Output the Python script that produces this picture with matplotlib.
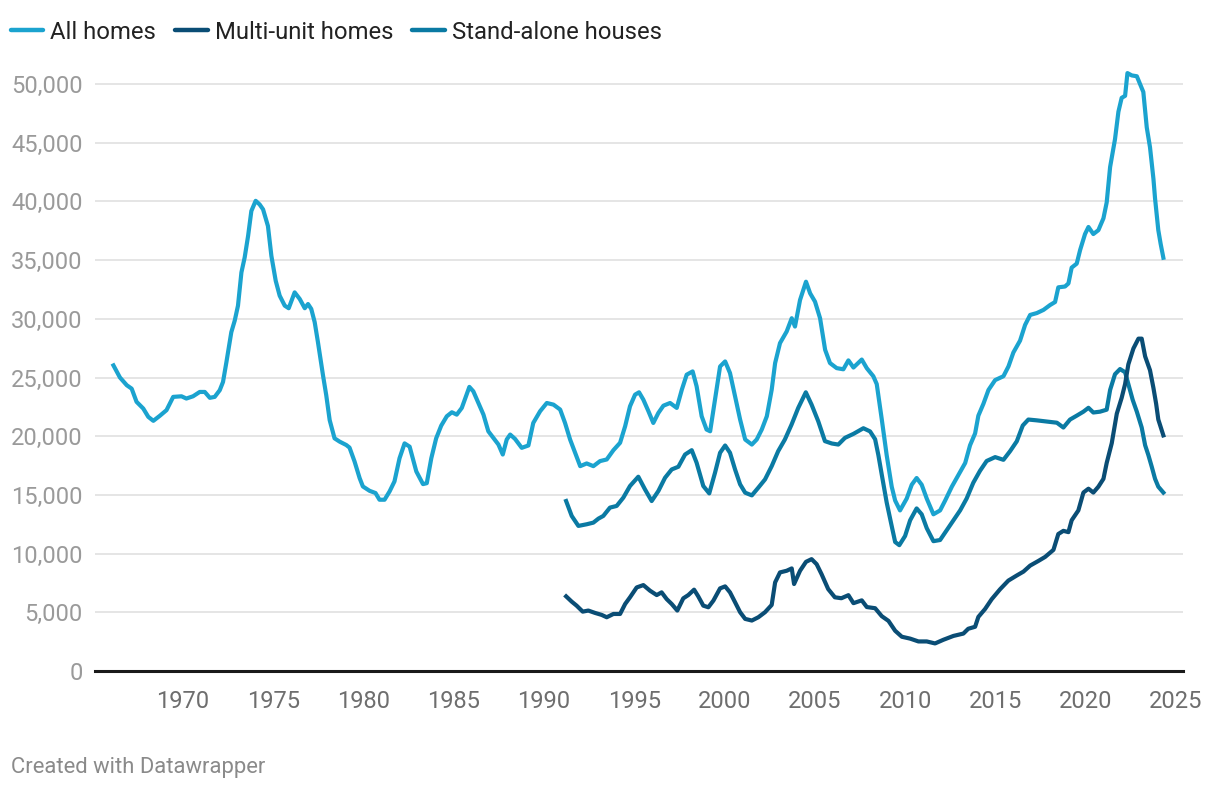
import matplotlib
matplotlib.use("Agg")
import matplotlib.pyplot as plt
from matplotlib.ticker import FuncFormatter

plt.rcParams['font.family'] = ['Roboto', 'DejaVu Sans']

# ---- data (year, value) ----
all_years = [1966.14, 1966.5, 1966.88, 1967.15, 1967.42, 1967.79, 1968.07, 1968.35, 1968.71, 1969.08,
             1969.45, 1969.91, 1970.18, 1970.55, 1970.92, 1971.2, 1971.48, 1971.75, 1972.03, 1972.21,
             1972.4, 1972.67, 1972.86, 1973.04, 1973.23, 1973.41, 1973.6, 1973.78, 1974.02, 1974.24,
             1974.43, 1974.7, 1974.89, 1975.13, 1975.35, 1975.63, 1975.85, 1976.18, 1976.46, 1976.74,
             1976.92, 1977.1, 1977.29, 1977.47, 1977.75, 1977.93, 1978.12, 1978.39, 1978.67, 1979.04,
             1979.22, 1979.5, 1979.78, 1979.96, 1980.33, 1980.66, 1980.88, 1981.16, 1981.44, 1981.71,
             1981.99, 1982.27, 1982.55, 1982.92, 1983.29, 1983.5, 1983.75, 1984.02, 1984.3, 1984.61,
             1984.89, 1985.16, 1985.44, 1985.86, 1986.08, 1986.36, 1986.64, 1986.91, 1987.19, 1987.47,
             1987.71, 1987.93, 1988.12, 1988.39, 1988.76, 1989.13, 1989.4, 1989.78, 1990.15, 1990.52,
             1990.89, 1991.16, 1991.44, 1991.72, 1992.0, 1992.36, 1992.73, 1993.1, 1993.47, 1993.84,
             1994.21, 1994.49, 1994.76, 1995.04, 1995.26, 1995.5, 1995.78, 1996.05, 1996.33, 1996.61,
             1996.98, 1997.35, 1997.63, 1997.9, 1998.23, 1998.45, 1998.73, 1999.0, 1999.2, 1999.47,
             1999.75, 2000.03, 2000.3, 2000.58, 2000.86, 2001.14, 2001.51, 2001.78, 2002.06, 2002.34,
             2002.61, 2002.8, 2003.07, 2003.44, 2003.72, 2003.9, 2004.18, 2004.51, 2004.74, 2005.01,
             2005.29, 2005.57, 2005.84, 2006.21, 2006.58, 2006.86, 2007.14, 2007.6, 2007.88, 2008.24,
             2008.43, 2008.71, 2008.98, 2009.26, 2009.45, 2009.72, 2010.09, 2010.37, 2010.64, 2010.92,
             2011.2, 2011.57, 2011.94, 2012.22, 2012.59, 2012.96, 2013.33, 2013.6, 2013.88, 2014.06,
             2014.34, 2014.62, 2014.99, 2015.45, 2015.73, 2016.0, 2016.37, 2016.65, 2016.93, 2017.3,
             2017.67, 2018.03, 2018.31, 2018.49, 2018.86, 2019.05, 2019.23, 2019.51, 2019.7, 2019.97,
             2020.16, 2020.43, 2020.71, 2020.99, 2021.17, 2021.36, 2021.63, 2021.82, 2022.0, 2022.19,
             2022.32, 2022.56, 2022.84, 2023.02, 2023.2, 2023.39, 2023.57, 2023.76, 2023.85, 2024.03,
             2024.16, 2024.31]
all_values = [26030, 25000, 24340, 24050, 22930, 22360, 21650, 21310, 21740, 22220,
              23350, 23400, 23210, 23400, 23770, 23770, 23270, 23350, 23920, 24620,
              26320, 28860, 29850, 31120, 33950, 35220, 37060, 39180, 40050, 39740,
              39320, 37900, 35360, 33240, 31970, 31120, 30900, 32250, 31690, 30900,
              31260, 30840, 29710, 28010, 25190, 23490, 21370, 19820, 19540, 19250,
              19030, 17840, 16430, 15720, 15350, 15160, 14590, 14590, 15300, 16150,
              18120, 19390, 19110, 17000, 15920, 16000, 18120, 19820, 20900, 21700,
              22040, 21840, 22410, 24200, 23820, 22830, 21840, 20420, 19860, 19290,
              18440, 19720, 20140, 19770, 19010, 19210, 21130, 22130, 22830, 22690,
              22270, 21130, 19720, 18590, 17450, 17680, 17450, 17880, 18020, 18810,
              19440, 20850, 22550, 23540, 23740, 23110, 22130, 21130, 21980, 22600,
              22830, 22410, 23960, 25240, 25520, 24250, 21700, 20570, 20420, 23110,
              25940, 26370, 25380, 23400, 21420, 19720, 19290, 19720, 20570, 21700,
              23960, 26230, 27930, 28920, 30050, 29340, 31600, 33160, 32170, 31460,
              30050, 27360, 26230, 25800, 25700, 26460, 25850, 26530, 25790, 25110,
              24440, 21420, 18390, 15700, 14520, 13680, 14690, 15870, 16440, 15870,
              14690, 13350, 13680, 14520, 15700, 16710, 17720, 19230, 20240, 21750,
              22760, 23940, 24780, 25110, 25950, 27130, 28140, 29480, 30330, 30490,
              30760, 31170, 31430, 32680, 32750, 33010, 34360, 34700, 35870, 37220,
              37820, 37220, 37550, 38560, 39910, 42930, 45290, 47640, 48820, 48990,
              50930, 50730, 50660, 49990, 49320, 46300, 44610, 41920, 40240, 37550,
              36380, 35200]

multi_years = [1991.22, 1991.53, 1991.8, 1992.14, 1992.45, 1992.82, 1993.19, 1993.47, 1993.84, 1994.21,
               1994.49, 1994.76, 1995.13, 1995.5, 1995.87, 1996.24, 1996.51, 1996.79, 1997.07, 1997.38,
               1997.71, 1997.99, 1998.31, 1998.54, 1998.82, 1999.1, 1999.38, 1999.75, 2000.03, 2000.3,
               2000.58, 2000.86, 2001.14, 2001.51, 2001.87, 2002.24, 2002.61, 2002.8, 2003.07, 2003.44,
               2003.72, 2003.85, 2004.18, 2004.51, 2004.82, 2005.1, 2005.37, 2005.74, 2006.11, 2006.47,
               2006.86, 2007.14, 2007.6, 2007.88, 2008.34, 2008.71, 2009.08, 2009.45, 2009.82, 2010.28,
               2010.74, 2011.2, 2011.66, 2012.12, 2012.68, 2013.23, 2013.5, 2013.88, 2014.06, 2014.43,
               2014.8, 2015.26, 2015.72, 2016.19, 2016.56, 2016.93, 2017.39, 2017.76, 2018.22, 2018.49,
               2018.77, 2019.05, 2019.23, 2019.6, 2019.88, 2020.16, 2020.43, 2020.71, 2020.99, 2021.17,
               2021.45, 2021.73, 2022.0, 2022.19, 2022.37, 2022.65, 2022.93, 2023.11, 2023.3, 2023.57,
               2023.76, 2023.91, 2024.03, 2024.31]
multi_values = [6360, 5910, 5570, 5060, 5150, 4950, 4780, 4580, 4860, 4860,
                5710, 6280, 7120, 7320, 6840, 6470, 6700, 6130, 5710, 5150,
                6190, 6470, 6930, 6360, 5570, 5430, 6000, 7040, 7210, 6700,
                5860, 5010, 4440, 4300, 4580, 5010, 5630, 7550, 8400, 8540,
                8740, 7410, 8540, 9300, 9530, 9100, 8260, 6980, 6280, 6200,
                6460, 5780, 6020, 5450, 5350, 4670, 4270, 3430, 2920, 2760,
                2520, 2520, 2350, 2660, 2990, 3190, 3600, 3770, 4610, 5280,
                6120, 6960, 7700, 8140, 8470, 8980, 9380, 9720, 10320, 11670,
                11940, 11830, 12840, 13680, 15200, 15530, 15200, 15700, 16370, 17720,
                19400, 21920, 23270, 24440, 26120, 27470, 28310, 28310, 26800, 25620,
                24110, 22760, 21420, 20070]

house_years = [1991.22, 1991.53, 1991.9, 1992.36, 1992.73, 1993.01, 1993.28, 1993.65, 1994.02, 1994.39,
               1994.76, 1995.22, 1995.59, 1995.96, 1996.33, 1996.7, 1997.07, 1997.44, 1997.81, 1998.18,
               1998.45, 1998.82, 1999.15, 1999.47, 1999.75, 2000.03, 2000.3, 2000.58, 2000.86, 2001.14,
               2001.51, 2001.87, 2002.24, 2002.61, 2002.97, 2003.34, 2003.71, 2004.08, 2004.5, 2004.82,
               2005.19, 2005.56, 2005.94, 2006.3, 2006.67, 2007.14, 2007.69, 2008.06, 2008.34, 2008.52,
               2008.71, 2008.98, 2009.26, 2009.45, 2009.68, 2010.0, 2010.28, 2010.64, 2010.92, 2011.2,
               2011.57, 2011.94, 2012.31, 2012.68, 2013.05, 2013.41, 2013.78, 2014.15, 2014.52, 2014.99,
               2015.45, 2015.82, 2016.19, 2016.52, 2016.83, 2017.3, 2017.85, 2018.41, 2018.77, 2019.14,
               2019.51, 2019.88, 2020.16, 2020.43, 2020.8, 2021.17, 2021.36, 2021.63, 2021.91, 2022.19,
               2022.37, 2022.61, 2022.84, 2023.11, 2023.3, 2023.48, 2023.67, 2023.85, 2024.03, 2024.31]
house_values = [14480, 13210, 12360, 12500, 12640, 12980, 13210, 13920, 14060, 14770,
                15760, 16550, 15470, 14480, 15330, 16460, 17170, 17400, 18440, 18810,
                17740, 15760, 15130, 16890, 18590, 19210, 18590, 17170, 15900, 15190,
                14960, 15620, 16320, 17450, 18730, 19720, 20990, 22410, 23740, 22690,
                21270, 19580, 19380, 19290, 19860, 20200, 20680, 20410, 19740, 18390,
                16710, 14360, 12340, 10990, 10720, 11500, 12840, 13850, 13350, 12170,
                11060, 11160, 12000, 12840, 13680, 14690, 16040, 17050, 17890, 18220,
                17990, 18730, 19570, 20910, 21420, 21350, 21250, 21150, 20740, 21420,
                21750, 22090, 22420, 22020, 22090, 22260, 23940, 25280, 25720, 25450,
                24440, 23100, 22090, 20740, 19230, 18390, 17380, 16370, 15700, 15200]

series_names = ["All homes", "Multi-unit homes", "Stand-alone houses"]
series_colors = ["#1ba3cf", "#0a4d75", "#0a7aa3"]

year_ticks = list(range(1970, 2030, 5))
value_ticks = list(range(0, 55000, 5000))

# ---- figure ----
fig = plt.figure(figsize=(12.2, 7.9), dpi=100)
ax = fig.add_axes([0.0779, 0.1506, 0.8918, 0.7728])

ax.plot(all_years, all_values, color=series_colors[0], lw=3, solid_joinstyle='round', zorder=3)
ax.plot(multi_years, multi_values, color=series_colors[1], lw=3, solid_joinstyle='round', zorder=4)
ax.plot(house_years, house_values, color=series_colors[2], lw=3, solid_joinstyle='round', zorder=3)

ax.set_xlim(1965.12, 2025.4)
ax.set_ylim(0, 52000)

ax.set_yticks(value_ticks)
ax.yaxis.set_major_formatter(FuncFormatter(lambda v, p: f"{int(v):,}"))
ax.set_xticks(year_ticks)
ax.set_xticklabels([str(y) for y in year_ticks])

ax.grid(axis='y', color='#e3e3e3', lw=1.3, zorder=0)
ax.grid(axis='x', visible=False)
for s in ['top', 'right', 'left']:
    ax.spines[s].set_visible(False)
ax.spines['bottom'].set_color('#1a1a1a')
ax.spines['bottom'].set_linewidth(2.2)
ax.spines['bottom'].set_zorder(5)

ax.tick_params(axis='y', length=0, pad=9, labelsize=17, labelcolor='#9a9a9a')
ax.tick_params(axis='x', length=0, pad=14, labelsize=17, labelcolor='#6e6e6e')

# legend
handles = [plt.Line2D([], [], color=c, lw=3.2, solid_capstyle='round') for c in series_colors]
fig.legend(handles, series_names, loc='upper left', bbox_to_anchor=(0.009, 0.974), ncol=3,
           frameon=False, fontsize=17.2, handlelength=1.35, handletextpad=0.3,
           columnspacing=0.8, borderpad=0, borderaxespad=0, labelcolor='#222222')

fig.text(0.009, 0.029, "Created with Datawrapper", fontsize=15.8, color='#8a8a8a', ha='left', va='center')

fig.savefig("out.png", dpi=100)
